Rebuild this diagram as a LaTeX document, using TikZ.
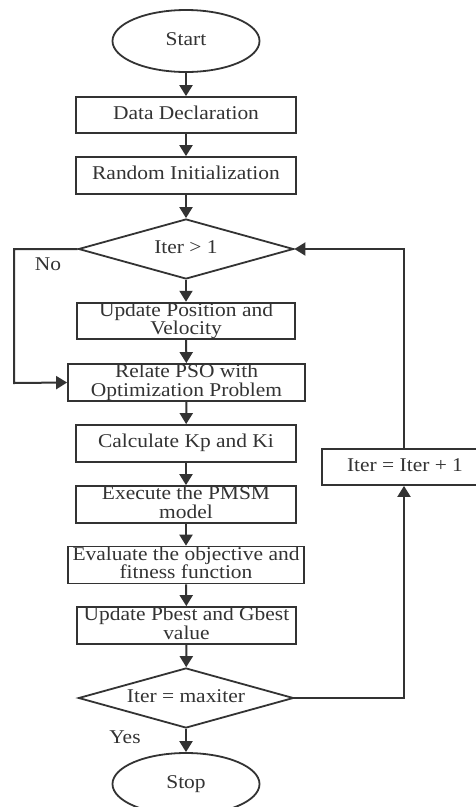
\documentclass[tikz,border=0pt]{standalone}
\usepackage{fontspec}
\setmainfont{Liberation Serif}
\usepackage{graphicx}
\usetikzlibrary{shapes.geometric,arrows.meta}
\newcommand{\tx}[1]{\scalebox{1.1}[1]{\begin{tabular}{@{}c@{}}#1\end{tabular}}}
\definecolor{ink}{HTML}{333333}
\begin{document}
\begin{tikzpicture}[x=1pt,y=1pt,
  every node/.style={font=\fontsize{19.5}{16}\selectfont, text=ink},
  procbox/.style={draw=ink, line width=1.8pt, rectangle, inner sep=0pt, minimum height=36pt},
  termin/.style={draw=ink, line width=1.8pt, ellipse, inner sep=0pt, minimum width=147pt, minimum height=62pt},
  decis/.style={draw=ink, line width=1.8pt, diamond, inner sep=0pt, aspect=3.58, minimum width=215pt, minimum height=60pt},
  flow/.style={draw=ink, line width=2pt, -{Triangle[width=13pt,length=11pt]}},
  lbl/.style={inner sep=0pt}]
\useasboundingbox (0,0) rectangle (475,-807);
\fill[white] (0,0) rectangle (475,-807);
\node[termin] (start) at (186,-41) {\tx{Start}};
\node[procbox, minimum width=220pt] (data) at (186,-115) {\tx{Data Declaration}};
\node[procbox, minimum width=220pt, minimum height=37pt] (rand) at (186,-175.5) {\tx{Random Initialization}};
\node[decis] (d1) at (186,-249) {\tx{Iter > 1}};
\node[procbox, minimum width=218pt] (upd) at (186,-321) {\tx{Update Position and\\Velocity}};
\node[procbox, minimum width=237pt, minimum height=37pt] (rel) at (186.5,-382.5) {\tx{Relate PSO with\\Optimization Problem}};
\node[procbox, minimum width=220pt, minimum height=37pt] (calc) at (186,-443.5) {\tx{Calculate Kp and Ki}};
\node[procbox, minimum width=220pt, minimum height=37pt] (exec) at (186,-504.5) {\tx{Execute the PMSM\\model}};
\node[procbox, minimum width=236pt] (eval) at (186,-565) {\tx{Evaluate the objective and\\fitness function}};
\node[procbox, minimum width=219pt, minimum height=37pt] (pbest) at (186.5,-625.5) {\tx{Update Pbest and Gbest\\value}};
\node[decis] (d2) at (186,-698) {\tx{Iter = maxiter}};
\node[termin] (stop) at (186,-784) {\tx{Stop}};
\node[procbox, minimum width=166pt] (inc) at (405,-467) {\tx{Iter = Iter + 1}};
\node[lbl] (no) at (48,-267) {\tx{No}};
\node[lbl] (yes) at (125,-740) {\tx{Yes}};
\coordinate (nl1) at (14,-249);
\coordinate (nl2) at (14,-383);
\coordinate (r1) at (404,-698);
\coordinate (r2) at (404,-249);
\draw[flow] (start) -- (data);
\draw[flow] (data) -- (rand);
\draw[flow] (rand) -- (d1);
\draw[flow] (d1) -- (upd);
\draw[flow] (upd) -- (rel);
\draw[flow] (rel) -- (calc);
\draw[flow] (calc) -- (exec);
\draw[flow] (exec) -- (eval);
\draw[flow] (eval) -- (pbest);
\draw[flow] (pbest) -- (d2);
\draw[flow] (d2) -- (stop);
\draw[flow] (d1.west) -- (nl1) -- (nl2) -- (rel.west);
\draw[flow] (d2.east) -- (r1) -- (r1 |- inc.south);
\draw[flow] (r2 |- inc.north) -- (r2) -- (d1.east);
\end{tikzpicture}
\end{document}
